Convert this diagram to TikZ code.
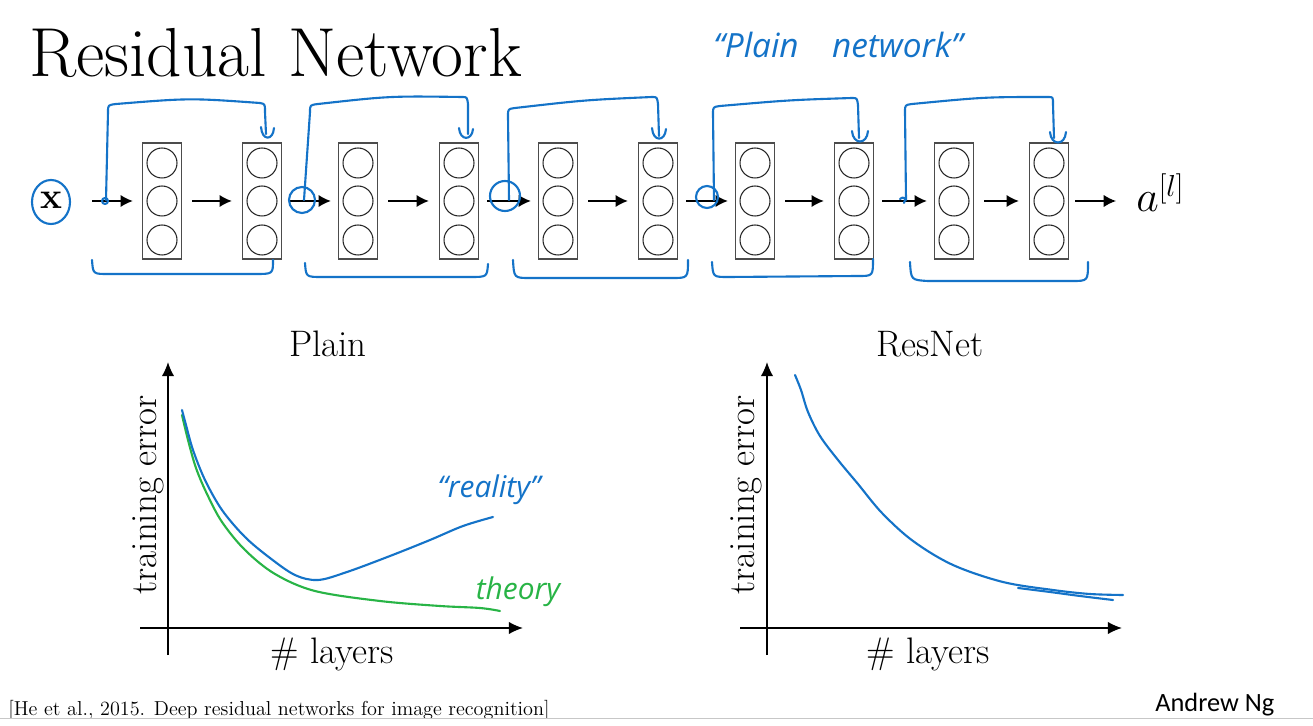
\documentclass[tikz,border=0pt]{standalone}
\usepackage{fontspec}
\newfontfamily\handfont{Open Sans}
\newfontfamily\ngfont{Carlito}
\usetikzlibrary{arrows.meta,shapes.geometric}
\definecolor{penblue}{RGB}{20,115,200}
\definecolor{pengreen}{RGB}{40,180,70}
\begin{document}
\begin{tikzpicture}[x=0.02cm,y=-0.02cm,
  layerbox/.style={draw=black!70,line width=0.8pt,minimum width=0.78cm,minimum height=2.32cm,inner sep=0pt},
  unit/.style={circle,draw=black!85,line width=0.6pt,minimum size=0.6cm,inner sep=0pt},
  arr/.style={-{Latex[length=7pt,width=7pt]},line width=0.8pt,black},
  axisline/.style={-{Latex[length=8pt,width=7pt]},line width=0.8pt,black},
  pen/.style={penblue,line width=1.2pt,line cap=round,line join=round},
  gpen/.style={pengreen,line width=1.2pt,line cap=round,line join=round},
  lbl/.style={font=\fontsize{21}{24}\selectfont},
  hand/.style={font=\handfont\itshape\fontsize{17}{20}\selectfont}
]
\useasboundingbox (0,0) rectangle (1313,726);
\fill[white] (0,0) rectangle (1313,726);

% title
\node[anchor=base west,inner sep=0pt,font=\fontsize{39.5}{44}\selectfont] (title) at (29,77) {Residual Network};
\node[hand,penblue,font=\handfont\itshape\fontsize{19}{22}\selectfont] (plainnet) at (838,45) {“Plain\quad network”};

% input
\node[ellipse,draw=penblue,line width=1.2pt,minimum width=0.76cm,minimum height=0.88cm,inner sep=0pt] (xin) at (51,202) {};
\node[font=\bfseries\fontsize{21}{24}\selectfont,inner sep=0pt] (xt) at (51,200) {x};
\coordinate (in1) at (92,201);

% layers
\foreach \i/\x in {1/162,2/262,3/358,4/459,5/558,6/658,7/755,8/854,9/954,10/1049}{
  \node[layerbox] (b\i) at (\x,201) {};
  \node[unit] (b\i a) at (\x,163) {};
  \node[unit] (b\i b) at (\x,201) {};
  \node[unit] (b\i c) at (\x,240) {};
}
\coordinate (outend) at (1116,201);
\node[anchor=base west,inner sep=0pt,font=\fontsize{24}{28}\selectfont] (aout) at (1136,212) {$a^{[l]}$};

% arrows
\draw[arr,shorten >=0.18cm] (in1) -- (b1.west);
\foreach \a/\b in {1/2,3/4,5/6,7/8,9/10}{
  \draw[arr,shorten <=0.2cm,shorten >=0.2cm] (b\a.east) -- (b\b.west);
}
\foreach \a/\b in {2/3,4/5,6/7,8/9}{
  \draw[arr,shorten <=0.16cm,shorten >=0.14cm] (b\a.east) -- (b\b.west);
}
\draw[arr,shorten <=0.12cm] (b10.east) -- (outend);

% skip connections (hand drawn)
% pair 1
\draw[pen] (106,200) -- (108,112) .. controls (108,105) .. (116,104) .. controls (190,98) .. (260,103) .. controls (265,104) .. (265,112) -- (266,134);
\draw[pen] (261,127) .. controls (262,141) and (273,141) .. (274,128);
\draw[pen] (105,201) circle (3);
% pair 2
\draw[pen] (304,200) -- (310,112) .. controls (310,105) .. (318,104) .. controls (390,96) .. (462,97) .. controls (467,97) .. (468,104) -- (468,134);
\draw[pen] (459,128) .. controls (460,141) and (472,141) .. (473,129);
\draw[pen] (302,200) circle (13);
% pair 3
\draw[pen] (509,200) -- (508,116) .. controls (508,109) .. (515,108) .. controls (585,100) .. (652,97) .. controls (657,97) .. (658,104) -- (659,136);
\draw[pen] (652,128) .. controls (653,142) and (665,142) .. (666,129);
\draw[pen] (505,196) circle (15);
% pair 4
\draw[pen] (714,200) -- (713,114) .. controls (713,107) .. (720,106) .. controls (790,100) .. (852,98) .. controls (857,98) .. (858,105) -- (859,138);
\draw[pen] (852,131) .. controls (853,145) and (867,145) .. (868,131);
\draw[pen] (707,197) circle (11);
% pair 5
\draw[pen] (906,200) -- (905,112) .. controls (905,105) .. (912,104) .. controls (985,97) .. (1048,97) .. controls (1053,97) .. (1053,104) -- (1054,138);
\draw[pen] (1050,132) .. controls (1051,146) and (1065,146) .. (1066,132);
\draw[pen] (900,199) .. controls (903,196) and (907,198) .. (904,203);

% brackets under pairs
\draw[pen] (92,260) .. controls (93,274) .. (108,274) -- (255,274) .. controls (273,274) .. (273,260);
\draw[pen] (305,263) .. controls (306,277) .. (322,277) -- (470,277) .. controls (487,277) .. (488,264);
\draw[pen] (513,260) .. controls (514,278) .. (530,278) -- (672,278) .. controls (688,278) .. (688,260);
\draw[pen] (712,262) .. controls (713,277) .. (728,277) -- (858,276) .. controls (873,276) .. (873,259);
\draw[pen] (910,262) .. controls (911,280) .. (928,281) -- (1072,281) .. controls (1088,281) .. (1088,262);

% ---- Plain plot ----
\draw[axisline] (168,655) -- (168,362);
\draw[axisline] (140,628) -- (523,628);
\node[lbl,anchor=base] (plaint) at (328,357) {Plain};
\node[lbl,rotate=90] (pylab) at (148,495) {training error};
\node[lbl,anchor=base] (pxlab) at (332,663) {\# layers};
\draw[gpen] plot[smooth,tension=0.55] coordinates {(182,415) (188,440) (196,468) (207,494) (222,522) (245,550) (275,574) (315,591) (380,601) (440,606) (480,608) (500,611)};
\draw[pen] plot[smooth,tension=0.55] coordinates {(182,410) (186,425) (193,450) (205,480) (222,510) (245,537) (270,558) (295,575) (318,580) (347,572) (390,556) (430,540) (463,526) (493,517)};
\node[hand,penblue] (reality) at (489,490) {“reality”};
\node[hand,pengreen] (theory) at (518,592) {theory};

% ---- ResNet plot ----
\draw[axisline] (767,655) -- (767,362);
\draw[axisline] (740,628) -- (1122,628);
\node[lbl,anchor=base] (rest) at (930,357) {ResNet};
\node[lbl,rotate=90] (rylab) at (746,495) {training error};
\node[lbl,anchor=base] (rxlab) at (928,663) {\# layers};
\draw[pen] plot[smooth,tension=0.55] coordinates {(795,375) (801,390) (808,412) (820,436) (838,460) (858,484) (882,513) (913,541) (953,565) (1003,582) (1053,590) (1090,594) (1123,595)};
\draw[pen] plot[smooth,tension=0.55] coordinates {(1018,588) (1050,592) (1080,596) (1113,600)};

% footer
\node[anchor=base west,inner sep=0pt,font=\fontsize{11.5}{13}\selectfont] (cite) at (8,715) {[He et al., 2015. Deep residual networks for image recognition]};
\node[anchor=base west,inner sep=0pt,font=\ngfont\fontsize{15}{18}\selectfont] (ng) at (1155,711) {Andrew Ng};
\fill[white] (0,718.5) rectangle (1313,726);
\draw[black!22,line width=0.8pt] (0,718.5) -- (1313,718.5);
\end{tikzpicture}
\end{document}
